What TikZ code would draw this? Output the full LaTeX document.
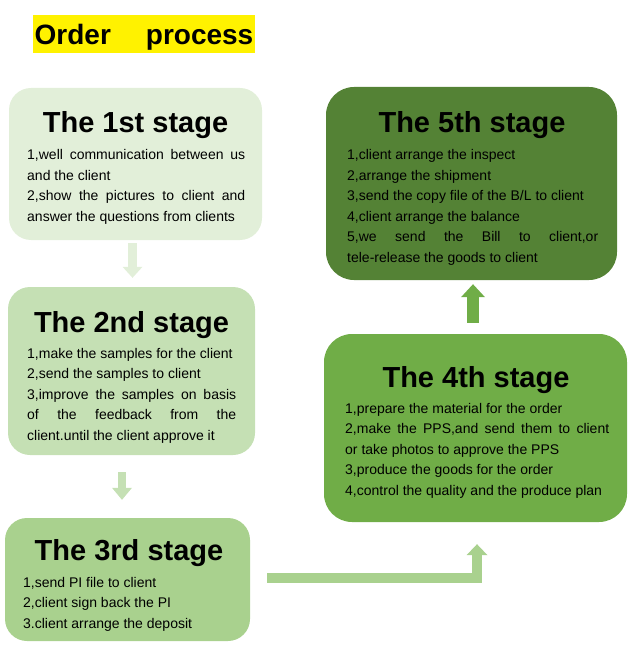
\documentclass[tikz,border=0pt]{standalone}
\usepackage{fontspec}
\setmainfont{Liberation Sans}
\usepackage{tikz}
\usetikzlibrary{arrows.meta}
\definecolor{stageA}{HTML}{E2EFD9}
\definecolor{stageB}{HTML}{C5E0B4}
\definecolor{stageC}{HTML}{A9D18E}
\definecolor{stageD}{HTML}{70AD47}
\definecolor{stageE}{HTML}{548235}
\hyphenpenalty=10000
\exhyphenpenalty=10000
\tolerance=10000
\tikzset{
  stage/.style={fill=#1, rounded corners=22pt, inner sep=0pt},
  head/.style={anchor=base, inner sep=0pt, font=\fontsize{29}{31}\selectfont\bfseries},
  body/.style={anchor=base west, inner sep=0pt, align=justify,
    font=\fontsize{14}{20.5}\selectfont},
  flow/.style={draw=#1, line cap=butt}
}

\begin{document}
\begin{tikzpicture}[x=1pt,y=-1pt]
      \useasboundingbox (0,0) rectangle (638,660);
      % heading
      \node[fill=yellow, minimum width=222pt, minimum height=38pt, inner sep=0pt,
        text height=22pt, text depth=0pt, font=\fontsize{28}{30}\selectfont\bfseries]
        (title) at (144,34) {Order\hspace{35pt}process};
      % boxes
      \node[stage=stageA, minimum width=253pt, minimum height=152pt] (s1) at (135.5,164) {};
      \node[stage=stageB, minimum width=247pt, minimum height=168pt] (s2) at (131.5,371) {};
      \node[stage=stageC, minimum width=245pt, minimum height=123pt] (s3) at (127.5,579.5) {};
      \node[stage=stageD, minimum width=303pt, minimum height=188pt, rounded corners=28pt] (s4) at (475.5,428) {};
      \node[stage=stageE, minimum width=291pt, minimum height=193pt, rounded corners=28pt] (s5) at (471.5,183.5) {};
      % stage names
      \node[head] (h1) at (135.5,133) {The 1st stage};
      \node[head] (h2) at (131.5,332) {The 2nd stage};
      \node[head] (h3) at (129,560) {The 3rd stage};
      \node[head] (h4) at (476,387) {The 4th stage};
      \node[head] (h5) at (472,133) {The 5th stage};
      % stage texts
      \node[body, text width=218pt] (b1) at (27,160) {1,well communication between us\linebreak
        and the client\\
        2,show the pictures to client and\linebreak
        answer the questions from clients};
      \node[body, text width=209pt] (b2) at (27,358) {1,make the samples for the client\\
        2,send the samples to client\\
        3,improve the samples on basis\linebreak
        of the feedback from the\linebreak
        \mbox{client.until the client approve it}};
      \node[body, text width=222pt] (b3) at (23,587) {1,send PI file to client\\
        2,client sign back the PI\\
        3.client arrange the deposit};
      \node[body, text width=264pt] (b4) at (345,413) {1,prepare the material for the order\\
        2,make the PPS,and send them to client\linebreak
        or take photos to approve the PPS\\
        3,produce the goods for the order\\
        4,control the quality and the produce plan};
      \node[body, text width=251pt] (b5) at (347,160) {1,client arrange the inspect\\
        2,arrange the shipment\\
        3,send the copy file of the B/L to client\\
        4,client arrange the balance\\
        5,we send the Bill to client,or\linebreak
        tele-release the goods to client};
      % arrows
      \draw[flow=stageA, line width=9pt, shorten <=3pt, shorten >=9pt,
        -{Triangle[width=20pt,length=11pt,line width=0pt]}]
        ([xshift=-3pt]s1.south) -- ([xshift=1pt]s2.north);
      \draw[flow=stageB, line width=8pt, shorten <=17pt, shorten >=18pt,
        -{Triangle[width=20pt,length=12pt,line width=0pt]}]
        ([xshift=-9.5pt]s2.south) -- ([xshift=-5.5pt]s3.north);
      \draw[flow=stageC, line width=10pt, miter limit=10, shorten <=17pt, shorten >=22pt,
        -{Triangle[width=21pt,length=11pt,line width=0pt]}]
        ([yshift=1.5pt]s3.east) -| ([xshift=1.5pt]s4.south);
      \draw[flow=stageD, line width=12pt, shorten <=11pt, shorten >=4pt,
        -{Triangle[width=24pt,length=13pt,line width=0pt]}]
        ([xshift=-2.5pt]s4.north) -- ([xshift=1.5pt]s5.south);
\end{tikzpicture}
\end{document}
